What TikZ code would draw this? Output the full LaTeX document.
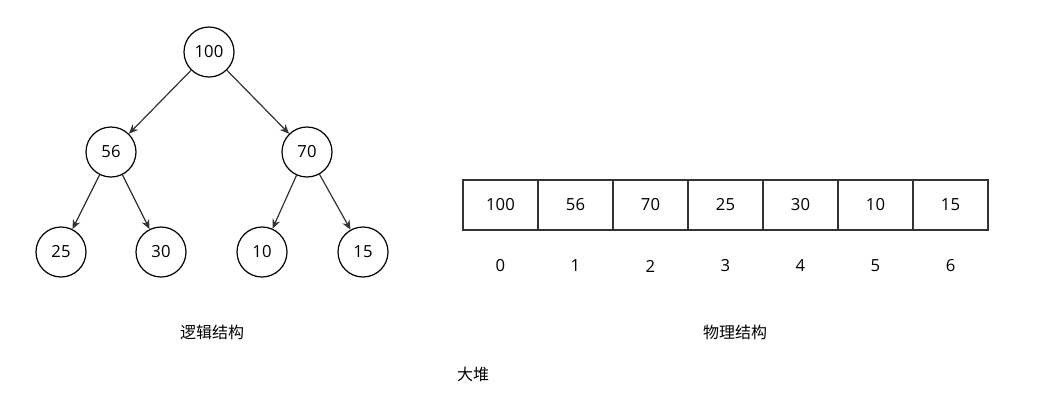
\documentclass[tikz,border=0pt]{standalone}
\usepackage{fontspec}
\setmainfont{Open Sans}
\newfontfamily\cjk{Noto Sans CJK SC}
\usetikzlibrary{arrows.meta}
\begin{document}
\begin{tikzpicture}[x=0.75pt,y=-0.75pt,
  tnode/.style={circle,draw=black,line width=0.9pt,minimum size=37.5pt,inner sep=0pt,font=\fontsize{12.5}{14}\selectfont},
  cell/.style={rectangle,draw=black!80,line width=0.9pt,minimum width=56.25pt,minimum height=37.5pt,inner sep=0pt,font=\fontsize{12.5}{14}\selectfont},
  idx/.style={font=\fontsize{12.5}{14}\selectfont},
  lbl/.style={font=\cjk\fontsize{12}{14}\selectfont},
  edge/.style={draw=black!80,line width=0.9pt,-{Stealth[length=7pt,width=6pt]}}]
\useasboundingbox (0,0) rectangle (1045,401);
\node[tnode] (n100) at (209,52) {100};
\node[tnode] (n56) at (111,152) {56};
\node[tnode] (n70) at (307,152) {70};
\node[tnode] (n25) at (61,252) {25};
\node[tnode] (n30) at (161,252) {30};
\node[tnode] (n10) at (262,252) {10};
\node[tnode] (n15) at (363,252) {15};
\draw[edge] (n100) -- (n56);
\draw[edge] (n100) -- (n70);
\draw[edge] (n56) -- (n25);
\draw[edge] (n56) -- (n30);
\draw[edge] (n70) -- (n10);
\draw[edge] (n70) -- (n15);
\foreach \v/\i in {100/0,56/1,70/2,25/3,30/4,10/5,15/6}{
  \node[cell] (c\i) at ({500.5+75*\i},205) {\v};
  \node[idx] (i\i) at ({500.5+75*\i},266) {\i};
}
\node[lbl] (logic) at (212,332) {逻辑结构};
\node[lbl] (phys) at (735,332) {物理结构};
\node[lbl] (heap) at (473,374) {大堆};
\end{tikzpicture}
\end{document}
